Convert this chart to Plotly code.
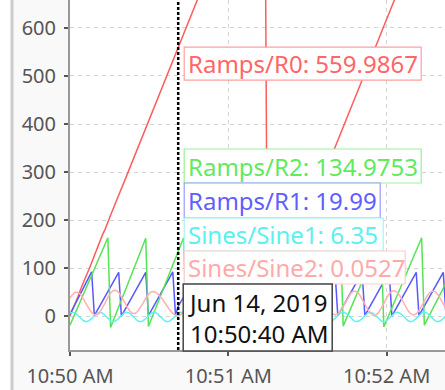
import pandas as pd
import plotly.graph_objects as go

# Simulated tag history, one sample every SAMPLE_SECONDS starting at START
START = pd.Timestamp("2019-06-14 10:50:00")
SAMPLE_SECONDS = 1.025
CURSOR_INDEX = 40

ramps_r0 = [0, 13, 29, 41, 57, 69, 84, 97, 112, 125, 141, 153, 169, 181, 197, 210, 224, 237, 252, 266,
            279, 293, 307, 321, 335, 349, 363, 376, 391, 405, 418, 433, 447, 461, 475, 489, 502, 517, 531, 545,
            559.9867, 573, 588, 601, 616, 630, 644, 657, 672, 686, 700, 713, 728, 742, 756, 769, 784, 798, 811, 826,
            840, 854, 867, 882, 896, 909, 924, 938, 952, 966, 979, 994, 1008,
            2, 15, 30, 43, 58, 71, 86, 100, 113, 128, 141, 156, 170, 183, 198, 212, 225, 240, 254, 268,
            281, 296, 310, 323, 338, 352, 365, 380, 394, 408, 421, 436, 450, 463, 478, 492, 505, 520, 534, 548,
            561, 576, 590, 603, 618, 632, 645, 660, 674, 688, 701, 716, 730, 743, 758, 772, 785, 800, 814, 828,
            841, 856, 870, 883, 898, 912, 925]

ramps_r1 = [4, 15, 26, 37, 48, 59, 70, 81, 92, 1,
            11, 21, 31, 41, 51, 61, 71, 81, 91, 0,
            10, 20, 30, 40, 50, 60, 70, 80, 91, 1,
            11, 21, 31, 41, 51, 61, 71, 81, 92, 2,
            19.99, 30, 39, 49, 58, 67, 76, 84, 92, 1,
            11, 21, 31, 41, 51, 61, 71, 81, 91, 0,
            10, 20, 30, 40, 50, 60, 70, 80, 90, 1,
            11, 21, 31, 41, 51, 61, 71, 81, 91, 1,
            11, 21, 31, 41, 51, 61, 71, 81, 92, 0,
            10, 20, 30, 40, 50, 60, 70, 80, 91, 1,
            11, 21, 31, 41, 51, 61, 71, 81, 91, 1,
            11, 21, 31, 41, 51, 61, 71, 81, 92, 0,
            10, 20, 30, 40, 50, 60, 70, 80, 91, 1,
            11, 21, 31, 41, 51, 61, 71, 81, 91, 1]

ramps_r2 = [-19, -6, 7, 20, 33, 46, 59, 72, 85, 98, 111, 124, 137, 150, 163,
            -24, -10, 5, 19, 33, 48, 62, 76, 90, 105, 119, 133, 148, 162,
            -22, -8, 6, 21, 35, 49, 64, 78, 92, 106, 121, 134.9753, 149, 163,
            -21, -8, 5, 19, 32, 45, 58, 71, 85, 98, 111, 124, 137, 151, 164,
            -23, -9, 5, 20, 34, 48, 62, 76, 91, 105, 119, 133, 148, 162,
            -20, -7, 6, 19, 32, 46, 59, 72, 85, 98, 111, 124, 138, 151, 164,
            -22, -8, 6, 21, 35, 49, 64, 78, 92, 106, 121, 135, 149, 163,
            -21, -8, 5, 19, 32, 45, 58, 71, 85, 98, 111, 124, 137, 151, 164,
            -23, -10, 3, 16, 30, 43, 56, 69, 83, 96, 109, 122, 136, 149, 163,
            -19, -8, 3, 14, 25, 36, 47, 58, 69]

sines_sine1 = [6.0, 8.0, 6.2, 1.0, -5.1, -10.0, -12.0, -10.2, -5.0, 1.2,
               6.1, 7.9, 6.0, 1.1, -5.2, -10.1, -11.9, -10.0, -5.1, 1.0,
               6.2, 8.0, 6.1, 1.2, -5.0, -10.2, -12.0, -10.1, -5.2, 1.1,
               6.0, 8.1, 6.0, 1.0, -5.1, -10.0, -11.9, -10.2, -5.0, 1.2,
               6.35, 8.0, 6.1, 1.1, -5.2, -10.1, -12.0, -10.0, -5.1, 1.0,
               6.1, 7.9, 6.2, 1.0, -5.0, -10.2, -12.1, -10.1, -5.2, 1.1,
               6.0, 8.0, 6.0, 1.2, -5.1, -10.0, -11.9, -10.2, -5.0, 1.0,
               6.2, 8.1, 6.1, 1.1, -5.2, -10.1, -12.0, -10.0, -5.1, 1.2,
               6.1, 7.9, 6.0, 1.0, -5.0, -10.2, -12.0, -10.1, -5.2, 1.1,
               6.0, 8.0, 6.2, 1.1, -5.1, -10.0, -11.9, -10.2, -5.0, 1.0,
               6.1, 8.1, 6.1, 1.2, -5.2, -10.1, -12.1, -10.0, -5.1, 1.1,
               6.2, 7.9, 6.0, 1.0, -5.0, -10.2, -12.0, -10.1, -5.2, 1.2,
               6.0, 8.0, 6.1, 1.1, -5.1, -10.0, -11.9, -10.2, -5.0, 1.0,
               6.1, 8.1, 6.2, 1.0, -5.2, -10.1, -12.0, -10.0, -5.1, 1.1]

sines_sine2 = [37.5, 45.5, 49.6, 49.2, 44.2, 35.8, 25.5, 15.2, 7.1, 2.6,
               2.6, 7.5, 16.4, 27.4, 38.6, 47.7, 53.1, 53.6, 49.3, 41.1,
               30.6, 19.9, 11.0, 5.9, 5.4, 9.4, 17.1, 27.0, 37.0, 45.3,
               50.2, 50.8, 48.3, 43.2, 36.3, 28.1, 19.6, 11.8, 5.6, 1.5,
               0.0527, 2.6, 9.8, 20.2, 31.8, 42.2, 49.4, 52.0, 49.8, 43.6,
               34.4, 23.8, 13.8, 5.8, 1.6, 1.6, 6.3, 14.7, 25.4, 36.2,
               45.3, 50.8, 51.8, 48.2, 40.7, 30.7, 20.1, 10.7, 4.3, 2.0,
               4.4, 11.1, 20.9, 31.9, 42.1, 49.6, 52.9, 51.5, 45.6, 36.3,
               25.3, 14.6, 6.3, 1.6, 1.6, 6.3, 14.7, 25.4, 36.2, 45.3,
               50.8, 51.8, 48.2, 40.7, 30.7, 20.1, 10.7, 4.3, 2.0, 4.4,
               11.0, 20.6, 31.4, 41.4, 48.7, 51.9, 50.5, 44.7, 35.6, 24.9,
               14.4, 6.2, 1.6, 1.6, 6.4, 15.0, 25.9, 36.9, 46.2, 51.8,
               52.8, 49.1, 41.5, 31.3, 20.5, 10.9, 4.3, 2.0, 4.4, 11.0,
               20.6, 31.4, 41.4, 48.7, 51.9, 50.5, 44.7, 35.6, 24.9, 14.4]

series = [
    ("Ramps/R0", ramps_r0, "#ff5c5c"),
    ("Ramps/R1", ramps_r1, "#5858ff"),
    ("Ramps/R2", ramps_r2, "#55e455"),
    ("Sines/Sine1", sines_sine1, "#5ef2f2"),
    ("Sines/Sine2", sines_sine2, "#ffb0b0"),
]

# label styling per tag: text colour, border colour
label_style = {
    "Ramps/R0": ("#ff6666", "#ffa0a0"),
    "Ramps/R2": ("#5fea5f", "#9cf09c"),
    "Ramps/R1": ("#5f5fff", "#9a9aff"),
    "Sines/Sine1": ("#5cf0f0", "#a2f4f4"),
    "Sines/Sine2": ("#ffaaaa", "#ffcccc"),
}


def sample_times(n):
    return [START + pd.Timedelta(seconds=k * SAMPLE_SECONDS) for k in range(n)]


fig = go.Figure()
for name, values, color in series:
    fig.add_trace(go.Scatter(
        x=sample_times(len(values)), y=values, mode="lines", name=name,
        line=dict(color=color, width=1.5), hoverinfo="skip",
    ))

cursor_time = START + pd.Timedelta(seconds=CURSOR_INDEX * SAMPLE_SECONDS)
x_end = START + pd.Timedelta(seconds=142.1)

FONT = "Noto Sans"
shapes = []
annotations = []

# left white gutter with separator line
shapes.append(dict(type="rect", xref="paper", yref="paper", x0=-0.19, x1=-0.1547,
                   y0=-0.12, y1=1.0, fillcolor="white", line=dict(width=0), layer="above"))
shapes.append(dict(type="line", xref="paper", yref="paper", x0=-0.1547, x1=-0.1547,
                   y0=-0.12, y1=1.0, line=dict(color="#cccccc", width=3), layer="above"))

# hover cursor
shapes.append(dict(type="line", xref="x", yref="paper", x0=cursor_time, x1=cursor_time,
                   y0=0, y1=1, line=dict(color="black", width=2.5, dash="3px,2px"), layer="above"))


def value_box(name, value, text_color, border_color, width_px, y_ref, y_anchor, y0, y1):
    shapes.append(dict(type="rect", xref="x", xsizemode="pixel", xanchor=cursor_time,
                       x0=6, x1=6 + width_px, yref=y_ref, ysizemode="pixel", yanchor=y_anchor,
                       y0=y0, y1=y1, fillcolor="white",
                       line=dict(color=border_color, width=1.2), layer="above"))
    annotations.append(dict(x=cursor_time, xref="x", xanchor="left", xshift=8,
                            y=y_anchor, yref=y_ref, yanchor="middle", yshift=(y0 + y1) / 2,
                            text=f"{name}: {value}", showarrow=False,
                            font=dict(family=FONT, size=24, color=text_color)))


cur = {name: values[CURSOR_INDEX] for name, values, _ in series}

tc, bc = label_style["Ramps/R0"]
value_box("Ramps/R0", cur["Ramps/R0"], tc, bc, 237, "y", cur["Ramps/R0"], -33, 0)
stack = [("Ramps/R2", 237, 167, 201), ("Ramps/R1", 196, 132, 167),
         ("Sines/Sine1", 199, 99, 132), ("Sines/Sine2", 221, 66, 99)]
for name, w, y0, y1 in stack:
    tc, bc = label_style[name]
    value_box(name, cur[name], tc, bc, w, "paper", 0, y0, y1)

# timestamp box
shapes.append(dict(type="rect", xref="x", xsizemode="pixel", xanchor=cursor_time, x0=5, x1=154,
                   yref="paper", ysizemode="pixel", yanchor=0, y0=-1, y1=66,
                   fillcolor="white", line=dict(color="#444444", width=1.5), layer="above"))
annotations.append(dict(x=cursor_time, xref="x", xanchor="left", xshift=8,
                        y=0, yref="paper", yanchor="middle", yshift=32.5,
                        text="Jun 14, 2019<br>10:50:40 AM", align="left", showarrow=False,
                        font=dict(family=FONT, size=24, color="#111111")))

fig.update_layout(
    width=445, height=390,
    margin=dict(l=70, r=0, t=0, b=40),
    paper_bgcolor="#f9f9f9", plot_bgcolor="white",
    showlegend=False,
    font=dict(family=FONT, size=20, color="#555555"),
    shapes=shapes, annotations=annotations,
    hovermode=False,
)
fig.update_xaxes(
    range=[START, x_end], type="date",
    tickvals=[START, START + pd.Timedelta(minutes=1), START + pd.Timedelta(minutes=2)],
    tickformat="%-I:%M %p",
    showline=True, linecolor="#999999", linewidth=2,
    ticks="outside", ticklen=4, tickwidth=1.5, tickcolor="#555555",
    showgrid=True, gridcolor="#d4d4d4", gridwidth=1, griddash="4px,4px",
    zeroline=False, ticklabelstandoff=3,
)
fig.update_yaxes(
    range=[-70.8, 658.3],
    tickvals=[0, 100, 200, 300, 400, 500, 600],
    showline=True, linecolor="#999999", linewidth=2,
    ticks="outside", ticklen=4, tickwidth=1.5, tickcolor="#555555",
    showgrid=True, gridcolor="#d4d4d4", gridwidth=1, griddash="4px,4px",
    zeroline=False, ticklabelstandoff=4,
)

fig.write_html("out.html")
